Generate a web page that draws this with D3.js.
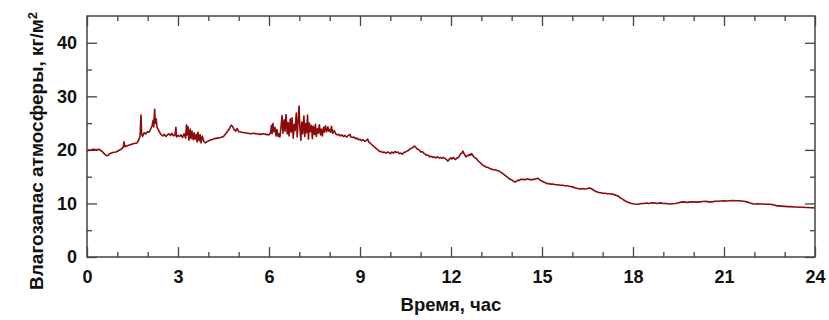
<!DOCTYPE html>
<html>
<head>
<meta charset="utf-8">
<script src="https://cdn.jsdelivr.net/npm/d3@7"></script>
<style>
  body { margin: 0; background: #fff; }
  svg text { font-family: "Liberation Sans", Arial, sans-serif; font-weight: bold; fill: #111; }
</style>
</head>
<body>
<svg id="chart" width="829" height="320"></svg>
<script>
// hour, water vapour (kg/m2)
var readings = [
  [0.00,19.7],[0.05,20.0],[0.10,19.9],[0.20,20.1],[0.30,20.0],[0.40,20.1],[0.50,19.7],[0.55,19.4],
  [0.60,19.1],[0.65,18.9],[0.70,19.0],[0.75,19.3],[0.85,19.5],[0.95,19.6],[1.05,19.9],[1.15,20.2],
  [1.20,20.6],[1.22,21.5],[1.25,20.6],[1.35,20.8],[1.45,21.0],[1.55,21.2],[1.65,21.3],[1.70,21.8],
  [1.75,22.6],[1.78,26.5],[1.80,23.0],[1.83,22.5],[1.88,23.2],[1.93,23.0],[2.00,23.4],[2.05,23.3],
  [2.10,23.9],[2.15,24.6],[2.18,25.5],[2.20,24.3],[2.23,27.6],[2.25,25.0],[2.28,25.8],[2.31,24.2],
  [2.35,23.8],[2.40,23.2],[2.45,22.8],[2.50,22.6],[2.55,22.9],[2.60,22.5],[2.65,22.8],[2.70,23.0],
  [2.75,22.7],[2.80,23.1],[2.85,22.6],[2.90,22.8],[2.93,24.2],[2.95,22.4],[3.00,22.7],[3.05,22.5],
  [3.10,22.8],[3.15,22.3],[3.20,23.0],[3.25,22.2],[3.28,24.7],[3.30,22.8],[3.33,24.3],[3.36,21.8],
  [3.40,23.9],[3.43,22.1],[3.46,23.5],[3.50,21.9],[3.53,23.2],[3.56,22.0],[3.60,22.9],[3.63,21.5],
  [3.66,23.3],[3.70,21.7],[3.73,22.8],[3.76,21.3],[3.80,22.6],[3.85,21.6],[3.90,21.3],[3.95,21.5],
  [4.00,21.7],[4.10,21.9],[4.20,22.1],[4.30,22.2],[4.40,22.3],[4.50,22.5],[4.60,23.2],[4.70,24.0],
  [4.75,24.6],[4.80,24.4],[4.85,23.8],[4.90,23.5],[4.95,24.0],[5.00,23.4],[5.10,23.3],[5.20,23.2],
  [5.30,23.1],[5.40,23.0],[5.50,23.1],[5.60,23.0],[5.70,22.9],[5.80,23.0],[5.90,22.9],[6.00,22.8],
  [6.05,23.2],[6.08,24.6],[6.10,23.0],[6.13,24.9],[6.16,23.4],[6.20,24.2],[6.23,22.6],[6.26,23.8],
  [6.30,22.5],[6.33,23.0],[6.36,22.4],[6.40,24.5],[6.43,26.4],[6.46,23.1],[6.50,25.6],[6.53,23.5],
  [6.56,26.6],[6.60,23.0],[6.63,25.1],[6.66,22.6],[6.70,25.8],[6.73,23.3],[6.76,26.0],[6.80,22.2],
  [6.83,24.8],[6.86,23.6],[6.90,26.9],[6.93,22.4],[6.96,25.3],[6.99,28.2],[7.02,24.0],[7.05,21.8],
  [7.08,25.2],[7.11,23.0],[7.15,26.3],[7.18,22.5],[7.21,24.9],[7.24,23.2],[7.27,26.5],[7.30,22.0],
  [7.33,25.0],[7.36,23.4],[7.40,24.6],[7.43,22.1],[7.46,24.4],[7.50,22.9],[7.53,24.8],[7.56,22.5],
  [7.60,24.0],[7.63,23.1],[7.66,24.7],[7.70,22.8],[7.73,23.9],[7.76,22.6],[7.80,24.2],[7.83,23.3],
  [7.86,24.5],[7.90,23.4],[7.94,24.3],[7.97,23.5],[8.00,23.8],[8.03,23.3],[8.06,24.4],[8.10,23.1],
  [8.15,23.6],[8.20,23.0],[8.25,22.8],[8.30,22.9],[8.35,22.6],[8.40,22.8],[8.45,22.5],[8.50,22.7],
  [8.55,22.4],[8.60,22.6],[8.67,22.9],[8.70,22.4],[8.75,22.3],[8.80,22.4],[8.85,22.1],[8.90,22.2],
  [8.95,21.9],[9.00,22.0],[9.05,21.7],[9.10,21.9],[9.15,21.6],[9.20,21.7],[9.25,22.0],[9.30,21.4],
  [9.35,21.2],[9.40,20.9],[9.45,20.7],[9.50,20.4],[9.55,20.2],[9.60,19.9],[9.65,19.7],[9.70,19.7],
  [9.75,19.5],[9.80,19.6],[9.85,19.4],[9.90,19.6],[9.95,19.5],[10.00,19.3],[10.05,19.6],[10.10,19.4],
  [10.15,19.7],[10.20,19.5],[10.25,19.6],[10.30,19.3],[10.35,19.4],[10.40,19.2],[10.45,19.5],[10.50,19.6],
  [10.55,19.8],[10.60,19.9],[10.65,20.2],[10.70,20.3],[10.75,20.5],[10.80,20.7],[10.85,20.4],[10.90,20.1],
  [10.95,20.0],[11.00,19.6],[11.05,19.7],[11.10,19.4],[11.15,19.2],[11.20,19.0],[11.25,19.0],[11.30,18.7],
  [11.35,18.8],[11.40,18.6],[11.45,18.7],[11.50,18.5],[11.55,18.7],[11.60,18.5],[11.65,18.6],[11.70,18.4],
  [11.75,18.6],[11.80,18.4],[11.85,18.2],[11.90,17.9],[11.95,18.3],[12.00,18.5],[12.03,18.3],[12.07,18.6],
  [12.10,18.4],[12.15,18.2],[12.20,18.5],[12.25,18.6],[12.28,18.9],[12.32,19.3],[12.36,19.4],[12.39,19.8],
  [12.42,19.4],[12.45,19.1],[12.48,18.8],[12.50,18.7],[12.54,19.0],[12.58,18.9],[12.62,19.2],[12.65,19.0],
  [12.68,19.3],[12.72,19.0],[12.75,18.7],[12.80,18.5],[12.85,18.3],[12.90,17.9],[12.95,17.7],[13.00,17.4],
  [13.06,17.1],[13.10,17.0],[13.15,16.8],[13.22,16.7],[13.29,16.5],[13.35,16.4],[13.40,16.3],[13.45,16.3],
  [13.50,16.2],[13.55,16.1],[13.60,16.0],[13.65,15.8],[13.70,15.6],[13.77,15.3],[13.84,15.0],[13.90,14.7],
  [13.95,14.5],[14.00,14.4],[14.05,14.2],[14.11,14.0],[14.15,14.1],[14.20,14.3],[14.25,14.3],[14.30,14.5],
  [14.38,14.5],[14.44,14.4],[14.50,14.6],[14.55,14.5],[14.60,14.5],[14.65,14.4],[14.70,14.5],[14.75,14.5],
  [14.80,14.6],[14.87,14.7],[14.91,14.5],[14.95,14.3],[15.00,14.2],[15.05,14.0],[15.10,13.9],[15.16,13.7],
  [15.23,13.7],[15.30,13.6],[15.38,13.6],[15.45,13.5],[15.52,13.5],[15.60,13.4],[15.68,13.4],[15.75,13.3],
  [15.82,13.3],[15.90,13.2],[16.00,13.1],[16.05,13.0],[16.10,12.9],[16.18,12.8],[16.25,12.7],[16.32,12.8],
  [16.40,12.7],[16.50,12.8],[16.58,12.9],[16.64,12.7],[16.70,12.5],[16.75,12.3],[16.80,12.2],[16.85,12.1],
  [16.90,12.0],[16.95,12.0],[17.00,11.9],[17.08,11.9],[17.15,11.8],[17.25,11.8],[17.35,11.7],[17.40,11.6],
  [17.45,11.5],[17.50,11.4],[17.55,11.2],[17.60,11.0],[17.63,10.9],[17.68,10.7],[17.74,10.5],[17.80,10.3],
  [17.85,10.2],[17.90,10.1],[17.95,10.0],[18.05,9.9],[18.17,9.85],[18.24,9.95],[18.30,10.0],[18.38,10.0],
  [18.45,10.1],[18.52,10.0],[18.60,10.1],[18.70,10.1],[18.80,10.0],[18.90,10.1],[19.00,10.0],[19.10,10.0],
  [19.20,9.9],[19.30,9.95],[19.40,10.0],[19.48,10.1],[19.55,10.2],[19.65,10.3],[19.72,10.25],[19.80,10.2],
  [19.90,10.3],[20.00,10.3],[20.10,10.25],[20.20,10.3],[20.30,10.35],[20.40,10.4],[20.50,10.3],[20.60,10.3],
  [20.70,10.4],[20.80,10.4],[20.90,10.45],[21.00,10.5],[21.10,10.45],[21.20,10.5],[21.30,10.55],[21.40,10.5],
  [21.50,10.5],[21.58,10.45],[21.65,10.4],[21.75,10.3],[21.80,10.2],[21.85,10.1],[21.92,10.0],[21.97,9.9],
  [22.05,9.9],[22.10,9.95],[22.20,9.9],[22.30,9.9],[22.40,9.85],[22.50,9.85],[22.58,9.8],[22.65,9.7],
  [22.75,9.55],[22.82,9.55],[22.90,9.5],[23.00,9.45],[23.10,9.4],[23.20,9.4],[23.30,9.35],[23.40,9.35],
  [23.50,9.3],[23.60,9.3],[23.70,9.25],[23.78,9.25],[23.85,9.2],[23.92,9.2],[24.00,9.15]
];

var xMajor = [0, 3, 6, 9, 12, 15, 18, 21, 24];
var xMinor = [1, 2, 4, 5, 7, 8, 10, 11, 13, 14, 16, 17, 19, 20, 22, 23];
var yMajor = [0, 10, 20, 30, 40];
var yMinor = [5, 15, 25, 35];

var svg = d3.select("#chart"),
    margin = {top: 16, right: 14, bottom: 63, left: 87},
    width = +svg.attr("width") - margin.left - margin.right,
    height = +svg.attr("height") - margin.top - margin.bottom;

var g = svg.append("g").attr("transform", "translate(" + margin.left + "," + margin.top + ")");

var x = d3.scaleLinear().domain([0, 24]).range([0, width]);
var y = d3.scaleLinear().domain([0, 45]).range([height, 0]);

function styleAxis(sel) {
    sel.select(".domain").remove();
    sel.selectAll("line").attr("stroke", "#444").attr("stroke-width", 1.3);
    sel.selectAll("text").style("font-size", "18px").attr("fill", "#111");
}

// bottom / left with labels
g.append("g").attr("transform", "translate(0," + height + ")")
    .call(d3.axisBottom(x).tickValues(xMajor).tickSize(-10).tickPadding(13).tickFormat(d3.format("d")))
    .call(styleAxis);
g.append("g").attr("transform", "translate(0," + height + ")")
    .call(d3.axisBottom(x).tickValues(xMinor).tickSize(-5).tickFormat(""))
    .call(styleAxis);
g.append("g")
    .call(d3.axisLeft(y).tickValues(yMajor).tickSize(-10).tickPadding(10).tickFormat(d3.format("d")))
    .call(styleAxis);
g.append("g")
    .call(d3.axisLeft(y).tickValues(yMinor).tickSize(-5).tickFormat(""))
    .call(styleAxis);

// top / right mirror ticks
g.append("g").call(d3.axisTop(x).tickValues(xMajor).tickSize(-10).tickFormat("")).call(styleAxis);
g.append("g").call(d3.axisTop(x).tickValues(xMinor).tickSize(-5).tickFormat("")).call(styleAxis);
g.append("g").attr("transform", "translate(" + width + ",0)")
    .call(d3.axisRight(y).tickValues(yMajor).tickSize(-10).tickFormat("")).call(styleAxis);
g.append("g").attr("transform", "translate(" + width + ",0)")
    .call(d3.axisRight(y).tickValues(yMinor).tickSize(-5).tickFormat("")).call(styleAxis);

var line = d3.line()
    .x(function(d) { return x(d[0]); })
    .y(function(d) { return y(d[1]); });

g.append("path")
    .datum(readings)
    .attr("fill", "none")
    .attr("stroke", "#8b0a0a")
    .attr("stroke-width", 1.6)
    .attr("stroke-linejoin", "round")
    .attr("d", line);

// frame
g.append("rect")
    .attr("width", width)
    .attr("height", height)
    .attr("fill", "none")
    .attr("stroke", "#444")
    .attr("stroke-width", 1.5);

// axis titles
svg.append("text")
    .attr("x", margin.left + width / 2)
    .attr("y", 311)
    .attr("text-anchor", "middle")
    .style("font-size", "18.5px")
    .text("Время, час");

var yt = svg.append("text")
    .attr("transform", "translate(43,151) rotate(-90)")
    .attr("text-anchor", "middle")
    .style("font-size", "19px");
yt.append("tspan").text("Влагозапас атмосферы, кг/м");
yt.append("tspan").attr("dy", "-0.45em").style("font-size", "13px").text("2");
</script>
</body>
</html>
